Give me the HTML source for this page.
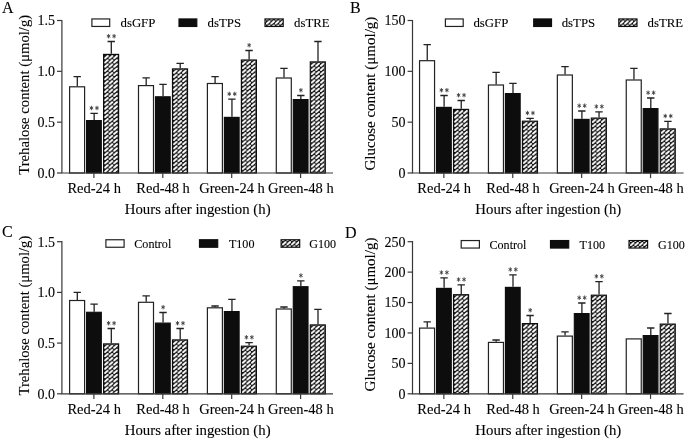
<!DOCTYPE html>
<html><head><meta charset="utf-8"><title>Figure</title>
<style>
html,body{margin:0;padding:0;background:#fff;}
svg{display:block;font-family:"Liberation Serif",serif;}
svg text{stroke:#000;stroke-width:0.1px;}
svg text.st{stroke:none;}
</style></head>
<body>
<svg width="685" height="440" viewBox="0 0 685 440">
<defs>
<pattern id="hatch" width="4.6" height="4.2" patternUnits="userSpaceOnUse" x="1.05" y="1.25">
<rect width="4.6" height="4.2" fill="#111"/>
<path d="M0.95 3.3 L3.65 0.9" stroke="#fff" stroke-width="1.9" stroke-linecap="round"/>
</pattern>
<pattern id="hatchL" width="4.45" height="4.2" patternUnits="userSpaceOnUse" x="1.55" y="2.0">
<rect width="4.45" height="4.2" fill="#0b0b0b"/>
<path d="M0.9 3.3 L3.55 0.9" stroke="#fff" stroke-width="1.95" stroke-linecap="round"/>
</pattern>
<filter id="soft" x="0" y="0" width="685" height="440" filterUnits="userSpaceOnUse"><feGaussianBlur stdDeviation="0.38"/></filter>
</defs>
<g filter="url(#soft)"><rect x="-5" y="-5" width="695" height="450" fill="#ffffff"/>
<path d="M77.3 86.2 V76.6 M73.55 76.6 H80.95" stroke="#222222" stroke-width="1.3" fill="none"/>
<g transform="translate(69 86.2)"><rect x="0.6" y="0.6" width="15" height="86.2" fill="#ffffff" stroke="#222222" stroke-width="1.2"/></g>
<path d="M94.15 120 V113.3 M90.4 113.3 H97.8" stroke="#222222" stroke-width="1.3" fill="none"/>
<g transform="translate(86 120)"><rect x="0.6" y="0.6" width="14.7" height="52.4" fill="#0b0b0b" stroke="#111" stroke-width="1.2"/></g>
<path d="M91.45 105.8 v4.4 M89.7 106.95 l3.5 2.1 M93.2 106.95 l-3.5 2.1" stroke="#3c3c3c" stroke-width="0.9" fill="none"/>
<path d="M96.95 105.8 v4.4 M95.2 106.95 l3.5 2.1 M98.7 106.95 l-3.5 2.1" stroke="#3c3c3c" stroke-width="0.9" fill="none"/>
<path d="M111.3 53.8 V41.5 M107.55 41.5 H114.95" stroke="#222222" stroke-width="1.3" fill="none"/>
<g transform="translate(103 53.8)"><rect x="0.6" y="0.6" width="15" height="118.6" fill="url(#hatch)" stroke="#111" stroke-width="1.2"/></g>
<path d="M108.6 34 v4.4 M106.85 35.15 l3.5 2.1 M110.35 35.15 l-3.5 2.1" stroke="#3c3c3c" stroke-width="0.9" fill="none"/>
<path d="M114.1 34 v4.4 M112.35 35.15 l3.5 2.1 M115.85 35.15 l-3.5 2.1" stroke="#3c3c3c" stroke-width="0.9" fill="none"/>
<path d="M146.2 85 V77.9 M142.45 77.9 H149.85" stroke="#222222" stroke-width="1.3" fill="none"/>
<g transform="translate(137.9 85)"><rect x="0.6" y="0.6" width="15" height="87.4" fill="#ffffff" stroke="#222222" stroke-width="1.2"/></g>
<path d="M163.05 96.2 V84.4 M159.3 84.4 H166.7" stroke="#222222" stroke-width="1.3" fill="none"/>
<g transform="translate(154.9 96.2)"><rect x="0.6" y="0.6" width="14.7" height="76.2" fill="#0b0b0b" stroke="#111" stroke-width="1.2"/></g>
<path d="M180.2 68.3 V63.3 M176.45 63.3 H183.85" stroke="#222222" stroke-width="1.3" fill="none"/>
<g transform="translate(171.9 68.3)"><rect x="0.6" y="0.6" width="15" height="104.1" fill="url(#hatch)" stroke="#111" stroke-width="1.2"/></g>
<path d="M215.1 82.9 V76.6 M211.35 76.6 H218.75" stroke="#222222" stroke-width="1.3" fill="none"/>
<g transform="translate(206.8 82.9)"><rect x="0.6" y="0.6" width="15" height="89.5" fill="#ffffff" stroke="#222222" stroke-width="1.2"/></g>
<path d="M231.95 116.8 V99.2 M228.2 99.2 H235.6" stroke="#222222" stroke-width="1.3" fill="none"/>
<g transform="translate(223.8 116.8)"><rect x="0.6" y="0.6" width="14.7" height="55.6" fill="#0b0b0b" stroke="#111" stroke-width="1.2"/></g>
<path d="M229.25 91.7 v4.4 M227.5 92.85 l3.5 2.1 M231 92.85 l-3.5 2.1" stroke="#3c3c3c" stroke-width="0.9" fill="none"/>
<path d="M234.75 91.7 v4.4 M233 92.85 l3.5 2.1 M236.5 92.85 l-3.5 2.1" stroke="#3c3c3c" stroke-width="0.9" fill="none"/>
<path d="M249.1 59.4 V50.5 M245.35 50.5 H252.75" stroke="#222222" stroke-width="1.3" fill="none"/>
<g transform="translate(240.8 59.4)"><rect x="0.6" y="0.6" width="15" height="113" fill="url(#hatch)" stroke="#111" stroke-width="1.2"/></g>
<path d="M249.15 43 v4.4 M247.4 44.15 l3.5 2.1 M250.9 44.15 l-3.5 2.1" stroke="#3c3c3c" stroke-width="0.9" fill="none"/>
<path d="M284 77.4 V68.3 M280.25 68.3 H287.65" stroke="#222222" stroke-width="1.3" fill="none"/>
<g transform="translate(275.7 77.4)"><rect x="0.6" y="0.6" width="15" height="95" fill="#ffffff" stroke="#222222" stroke-width="1.2"/></g>
<path d="M300.85 99 V95.5 M297.1 95.5 H304.5" stroke="#222222" stroke-width="1.3" fill="none"/>
<g transform="translate(292.7 99)"><rect x="0.6" y="0.6" width="14.7" height="73.4" fill="#0b0b0b" stroke="#111" stroke-width="1.2"/></g>
<path d="M300.9 88 v4.4 M299.15 89.15 l3.5 2.1 M302.65 89.15 l-3.5 2.1" stroke="#3c3c3c" stroke-width="0.9" fill="none"/>
<path d="M318 61.3 V41.5 M314.25 41.5 H321.65" stroke="#222222" stroke-width="1.3" fill="none"/>
<g transform="translate(309.7 61.3)"><rect x="0.6" y="0.6" width="15" height="111.1" fill="url(#hatch)" stroke="#111" stroke-width="1.2"/></g>
<path d="M61.9 19.9 V173 H333" stroke="#383838" stroke-width="1.2" fill="none"/>
<path d="M57 173 H61.9" stroke="#383838" stroke-width="1.2"/>
<text x="54.9" y="177.9" text-anchor="end" font-size="14" fill="#000000">0.0</text>
<path d="M57 122.17 H61.9" stroke="#383838" stroke-width="1.2"/>
<text x="54.9" y="127.07" text-anchor="end" font-size="14" fill="#000000">0.5</text>
<path d="M57 71.33 H61.9" stroke="#383838" stroke-width="1.2"/>
<text x="54.9" y="76.23" text-anchor="end" font-size="14" fill="#000000">1.0</text>
<path d="M57 20.5 H61.9" stroke="#383838" stroke-width="1.2"/>
<text x="54.9" y="25.4" text-anchor="end" font-size="14" fill="#000000">1.5</text>
<path d="M93.9 173 V178.1" stroke="#383838" stroke-width="1.2"/>
<text x="94.2" y="193.1" text-anchor="middle" font-size="14.5" fill="#000000">Red-24 h</text>
<path d="M162.8 173 V178.1" stroke="#383838" stroke-width="1.2"/>
<text x="163.1" y="193.1" text-anchor="middle" font-size="14.5" fill="#000000">Red-48 h</text>
<path d="M231.7 173 V178.1" stroke="#383838" stroke-width="1.2"/>
<text x="232" y="193.1" text-anchor="middle" font-size="14.5" fill="#000000">Green-24 h</text>
<path d="M300.6 173 V178.1" stroke="#383838" stroke-width="1.2"/>
<text x="300.9" y="193.1" text-anchor="middle" font-size="14.5" fill="#000000">Green-48 h</text>
<text x="197.7" y="214.2" text-anchor="middle" font-size="14.8" fill="#000000">Hours after ingestion (h)</text>
<text transform="translate(29 94.8) rotate(-90)" text-anchor="middle" font-size="14.7" fill="#000000">Trehalose content (μmol/g)</text>
<text x="2" y="12.9" font-size="16" fill="#000000">A</text>
<g transform="translate(91.3 18.35)"><rect x="0.6" y="0.6" width="17.8" height="7.5" fill="#ffffff" stroke="#222222" stroke-width="1.2"/></g>
<text x="120.5" y="26.9" font-size="12.8" fill="#000000">dsGFP</text>
<g transform="translate(178.4 18.35)"><rect x="0.6" y="0.6" width="17.8" height="7.5" fill="#0b0b0b" stroke="#111" stroke-width="1.2"/></g>
<text x="207.6" y="26.9" font-size="12.8" fill="#000000">dsTPS</text>
<g transform="translate(264.4 18.35)"><rect x="0.6" y="0.6" width="18.2" height="7.5" fill="url(#hatchL)" stroke="#111" stroke-width="1.2"/></g>
<text x="294.1" y="26.9" font-size="12.8" fill="#000000">dsTRE</text>
<path d="M427.25 60.1 V44.7 M423.5 44.7 H430.9" stroke="#222222" stroke-width="1.3" fill="none"/>
<g transform="translate(418.95 60.1)"><rect x="0.6" y="0.6" width="15" height="112.3" fill="#ffffff" stroke="#222222" stroke-width="1.2"/></g>
<path d="M444.1 106.8 V95.5 M440.35 95.5 H447.75" stroke="#222222" stroke-width="1.3" fill="none"/>
<g transform="translate(435.95 106.8)"><rect x="0.6" y="0.6" width="14.7" height="65.6" fill="#0b0b0b" stroke="#111" stroke-width="1.2"/></g>
<path d="M441.4 88 v4.4 M439.65 89.15 l3.5 2.1 M443.15 89.15 l-3.5 2.1" stroke="#3c3c3c" stroke-width="0.9" fill="none"/>
<path d="M446.9 88 v4.4 M445.15 89.15 l3.5 2.1 M448.65 89.15 l-3.5 2.1" stroke="#3c3c3c" stroke-width="0.9" fill="none"/>
<path d="M461.25 108.8 V100.5 M457.5 100.5 H464.9" stroke="#222222" stroke-width="1.3" fill="none"/>
<g transform="translate(452.95 108.8)"><rect x="0.6" y="0.6" width="15" height="63.6" fill="url(#hatch)" stroke="#111" stroke-width="1.2"/></g>
<path d="M458.55 93 v4.4 M456.8 94.15 l3.5 2.1 M460.3 94.15 l-3.5 2.1" stroke="#3c3c3c" stroke-width="0.9" fill="none"/>
<path d="M464.05 93 v4.4 M462.3 94.15 l3.5 2.1 M465.8 94.15 l-3.5 2.1" stroke="#3c3c3c" stroke-width="0.9" fill="none"/>
<path d="M496.15 84.4 V72.4 M492.4 72.4 H499.8" stroke="#222222" stroke-width="1.3" fill="none"/>
<g transform="translate(487.85 84.4)"><rect x="0.6" y="0.6" width="15" height="88" fill="#ffffff" stroke="#222222" stroke-width="1.2"/></g>
<path d="M513 93 V83.4 M509.25 83.4 H516.65" stroke="#222222" stroke-width="1.3" fill="none"/>
<g transform="translate(504.85 93)"><rect x="0.6" y="0.6" width="14.7" height="79.4" fill="#0b0b0b" stroke="#111" stroke-width="1.2"/></g>
<path d="M530.15 120.6 V118.3 M526.4 118.3 H533.8" stroke="#222222" stroke-width="1.3" fill="none"/>
<g transform="translate(521.85 120.6)"><rect x="0.6" y="0.6" width="15" height="51.8" fill="url(#hatch)" stroke="#111" stroke-width="1.2"/></g>
<path d="M527.45 110.8 v4.4 M525.7 111.95 l3.5 2.1 M529.2 111.95 l-3.5 2.1" stroke="#3c3c3c" stroke-width="0.9" fill="none"/>
<path d="M532.95 110.8 v4.4 M531.2 111.95 l3.5 2.1 M534.7 111.95 l-3.5 2.1" stroke="#3c3c3c" stroke-width="0.9" fill="none"/>
<path d="M565.05 74.4 V66.6 M561.3 66.6 H568.7" stroke="#222222" stroke-width="1.3" fill="none"/>
<g transform="translate(556.75 74.4)"><rect x="0.6" y="0.6" width="15" height="98" fill="#ffffff" stroke="#222222" stroke-width="1.2"/></g>
<path d="M581.9 118.8 V111 M578.15 111 H585.55" stroke="#222222" stroke-width="1.3" fill="none"/>
<g transform="translate(573.75 118.8)"><rect x="0.6" y="0.6" width="14.7" height="53.6" fill="#0b0b0b" stroke="#111" stroke-width="1.2"/></g>
<path d="M579.2 103.5 v4.4 M577.45 104.65 l3.5 2.1 M580.95 104.65 l-3.5 2.1" stroke="#3c3c3c" stroke-width="0.9" fill="none"/>
<path d="M584.7 103.5 v4.4 M582.95 104.65 l3.5 2.1 M586.45 104.65 l-3.5 2.1" stroke="#3c3c3c" stroke-width="0.9" fill="none"/>
<path d="M599.05 117.5 V111.8 M595.3 111.8 H602.7" stroke="#222222" stroke-width="1.3" fill="none"/>
<g transform="translate(590.75 117.5)"><rect x="0.6" y="0.6" width="15" height="54.9" fill="url(#hatch)" stroke="#111" stroke-width="1.2"/></g>
<path d="M596.35 104.3 v4.4 M594.6 105.45 l3.5 2.1 M598.1 105.45 l-3.5 2.1" stroke="#3c3c3c" stroke-width="0.9" fill="none"/>
<path d="M601.85 104.3 v4.4 M600.1 105.45 l3.5 2.1 M603.6 105.45 l-3.5 2.1" stroke="#3c3c3c" stroke-width="0.9" fill="none"/>
<path d="M633.95 79.4 V68.3 M630.2 68.3 H637.6" stroke="#222222" stroke-width="1.3" fill="none"/>
<g transform="translate(625.65 79.4)"><rect x="0.6" y="0.6" width="15" height="93" fill="#ffffff" stroke="#222222" stroke-width="1.2"/></g>
<path d="M650.8 108 V98 M647.05 98 H654.45" stroke="#222222" stroke-width="1.3" fill="none"/>
<g transform="translate(642.65 108)"><rect x="0.6" y="0.6" width="14.7" height="64.4" fill="#0b0b0b" stroke="#111" stroke-width="1.2"/></g>
<path d="M648.1 90.5 v4.4 M646.35 91.65 l3.5 2.1 M649.85 91.65 l-3.5 2.1" stroke="#3c3c3c" stroke-width="0.9" fill="none"/>
<path d="M653.6 90.5 v4.4 M651.85 91.65 l3.5 2.1 M655.35 91.65 l-3.5 2.1" stroke="#3c3c3c" stroke-width="0.9" fill="none"/>
<path d="M667.95 128.3 V121.3 M664.2 121.3 H671.6" stroke="#222222" stroke-width="1.3" fill="none"/>
<g transform="translate(659.65 128.3)"><rect x="0.6" y="0.6" width="15" height="44.1" fill="url(#hatch)" stroke="#111" stroke-width="1.2"/></g>
<path d="M665.25 113.8 v4.4 M663.5 114.95 l3.5 2.1 M667 114.95 l-3.5 2.1" stroke="#3c3c3c" stroke-width="0.9" fill="none"/>
<path d="M670.75 113.8 v4.4 M669 114.95 l3.5 2.1 M672.5 114.95 l-3.5 2.1" stroke="#3c3c3c" stroke-width="0.9" fill="none"/>
<path d="M412.5 19.9 V173 H683.6" stroke="#383838" stroke-width="1.2" fill="none"/>
<path d="M407.6 173 H412.5" stroke="#383838" stroke-width="1.2"/>
<text x="405.5" y="177.9" text-anchor="end" font-size="14" fill="#000000">0</text>
<path d="M407.6 122.17 H412.5" stroke="#383838" stroke-width="1.2"/>
<text x="405.5" y="127.07" text-anchor="end" font-size="14" fill="#000000">50</text>
<path d="M407.6 71.33 H412.5" stroke="#383838" stroke-width="1.2"/>
<text x="405.5" y="76.23" text-anchor="end" font-size="14" fill="#000000">100</text>
<path d="M407.6 20.5 H412.5" stroke="#383838" stroke-width="1.2"/>
<text x="405.5" y="25.4" text-anchor="end" font-size="14" fill="#000000">150</text>
<path d="M443.85 173 V178.1" stroke="#383838" stroke-width="1.2"/>
<text x="444.15" y="193.1" text-anchor="middle" font-size="14.5" fill="#000000">Red-24 h</text>
<path d="M512.75 173 V178.1" stroke="#383838" stroke-width="1.2"/>
<text x="513.05" y="193.1" text-anchor="middle" font-size="14.5" fill="#000000">Red-48 h</text>
<path d="M581.65 173 V178.1" stroke="#383838" stroke-width="1.2"/>
<text x="581.95" y="193.1" text-anchor="middle" font-size="14.5" fill="#000000">Green-24 h</text>
<path d="M650.55 173 V178.1" stroke="#383838" stroke-width="1.2"/>
<text x="650.85" y="193.1" text-anchor="middle" font-size="14.5" fill="#000000">Green-48 h</text>
<text x="548.3" y="214.2" text-anchor="middle" font-size="14.8" fill="#000000">Hours after ingestion (h)</text>
<text transform="translate(374.7 93.6) rotate(-90)" text-anchor="middle" font-size="15" fill="#000000">Glucose content (μmol/g)</text>
<text x="350" y="12.9" font-size="16" fill="#000000">B</text>
<g transform="translate(444.8 18.35)"><rect x="0.6" y="0.6" width="17.8" height="7.5" fill="#ffffff" stroke="#222222" stroke-width="1.2"/></g>
<text x="473.4" y="26.9" font-size="12.8" fill="#000000">dsGFP</text>
<g transform="translate(533.1 18.35)"><rect x="0.6" y="0.6" width="17.8" height="7.5" fill="#0b0b0b" stroke="#111" stroke-width="1.2"/></g>
<text x="561.7" y="26.9" font-size="12.8" fill="#000000">dsTPS</text>
<g transform="translate(618.2 18.35)"><rect x="0.6" y="0.6" width="18.2" height="7.5" fill="url(#hatchL)" stroke="#111" stroke-width="1.2"/></g>
<text x="647.6" y="26.9" font-size="12.8" fill="#000000">dsTRE</text>
<path d="M77.3 299.9 V292.4 M73.55 292.4 H80.95" stroke="#222222" stroke-width="1.3" fill="none"/>
<g transform="translate(69 299.9)"><rect x="0.6" y="0.6" width="15" height="93.3" fill="#ffffff" stroke="#222222" stroke-width="1.2"/></g>
<path d="M94.15 311.7 V304.2 M90.4 304.2 H97.8" stroke="#222222" stroke-width="1.3" fill="none"/>
<g transform="translate(86 311.7)"><rect x="0.6" y="0.6" width="14.7" height="81.5" fill="#0b0b0b" stroke="#111" stroke-width="1.2"/></g>
<path d="M111.3 343.3 V328.5 M107.55 328.5 H114.95" stroke="#222222" stroke-width="1.3" fill="none"/>
<g transform="translate(103 343.3)"><rect x="0.6" y="0.6" width="15" height="49.9" fill="url(#hatch)" stroke="#111" stroke-width="1.2"/></g>
<path d="M108.6 321 v4.4 M106.85 322.15 l3.5 2.1 M110.35 322.15 l-3.5 2.1" stroke="#3c3c3c" stroke-width="0.9" fill="none"/>
<path d="M114.1 321 v4.4 M112.35 322.15 l3.5 2.1 M115.85 322.15 l-3.5 2.1" stroke="#3c3c3c" stroke-width="0.9" fill="none"/>
<path d="M146.2 301.7 V295.9 M142.45 295.9 H149.85" stroke="#222222" stroke-width="1.3" fill="none"/>
<g transform="translate(137.9 301.7)"><rect x="0.6" y="0.6" width="15" height="91.5" fill="#ffffff" stroke="#222222" stroke-width="1.2"/></g>
<path d="M163.05 322.5 V312.5 M159.3 312.5 H166.7" stroke="#222222" stroke-width="1.3" fill="none"/>
<g transform="translate(154.9 322.5)"><rect x="0.6" y="0.6" width="14.7" height="70.7" fill="#0b0b0b" stroke="#111" stroke-width="1.2"/></g>
<path d="M163.1 305 v4.4 M161.35 306.15 l3.5 2.1 M164.85 306.15 l-3.5 2.1" stroke="#3c3c3c" stroke-width="0.9" fill="none"/>
<path d="M180.2 339.3 V328.5 M176.45 328.5 H183.85" stroke="#222222" stroke-width="1.3" fill="none"/>
<g transform="translate(171.9 339.3)"><rect x="0.6" y="0.6" width="15" height="53.9" fill="url(#hatch)" stroke="#111" stroke-width="1.2"/></g>
<path d="M177.5 321 v4.4 M175.75 322.15 l3.5 2.1 M179.25 322.15 l-3.5 2.1" stroke="#3c3c3c" stroke-width="0.9" fill="none"/>
<path d="M183 321 v4.4 M181.25 322.15 l3.5 2.1 M184.75 322.15 l-3.5 2.1" stroke="#3c3c3c" stroke-width="0.9" fill="none"/>
<path d="M215.1 307.2 V306 M211.35 306 H218.75" stroke="#222222" stroke-width="1.3" fill="none"/>
<g transform="translate(206.8 307.2)"><rect x="0.6" y="0.6" width="15" height="86" fill="#ffffff" stroke="#222222" stroke-width="1.2"/></g>
<path d="M231.95 311 V299.4 M228.2 299.4 H235.6" stroke="#222222" stroke-width="1.3" fill="none"/>
<g transform="translate(223.8 311)"><rect x="0.6" y="0.6" width="14.7" height="82.2" fill="#0b0b0b" stroke="#111" stroke-width="1.2"/></g>
<path d="M249.1 345.6 V342.6 M245.35 342.6 H252.75" stroke="#222222" stroke-width="1.3" fill="none"/>
<g transform="translate(240.8 345.6)"><rect x="0.6" y="0.6" width="15" height="47.6" fill="url(#hatch)" stroke="#111" stroke-width="1.2"/></g>
<path d="M246.4 335.1 v4.4 M244.65 336.25 l3.5 2.1 M248.15 336.25 l-3.5 2.1" stroke="#3c3c3c" stroke-width="0.9" fill="none"/>
<path d="M251.9 335.1 v4.4 M250.15 336.25 l3.5 2.1 M253.65 336.25 l-3.5 2.1" stroke="#3c3c3c" stroke-width="0.9" fill="none"/>
<path d="M284 308.4 V307 M280.25 307 H287.65" stroke="#222222" stroke-width="1.3" fill="none"/>
<g transform="translate(275.7 308.4)"><rect x="0.6" y="0.6" width="15" height="84.8" fill="#ffffff" stroke="#222222" stroke-width="1.2"/></g>
<path d="M300.85 286.1 V280.8 M297.1 280.8 H304.5" stroke="#222222" stroke-width="1.3" fill="none"/>
<g transform="translate(292.7 286.1)"><rect x="0.6" y="0.6" width="14.7" height="107.1" fill="#0b0b0b" stroke="#111" stroke-width="1.2"/></g>
<path d="M300.9 273.3 v4.4 M299.15 274.45 l3.5 2.1 M302.65 274.45 l-3.5 2.1" stroke="#3c3c3c" stroke-width="0.9" fill="none"/>
<path d="M318 324.3 V309.4 M314.25 309.4 H321.65" stroke="#222222" stroke-width="1.3" fill="none"/>
<g transform="translate(309.7 324.3)"><rect x="0.6" y="0.6" width="15" height="68.9" fill="url(#hatch)" stroke="#111" stroke-width="1.2"/></g>
<path d="M61.9 241.1 V393.8 H333" stroke="#383838" stroke-width="1.2" fill="none"/>
<path d="M57 393.8 H61.9" stroke="#383838" stroke-width="1.2"/>
<text x="54.9" y="398.7" text-anchor="end" font-size="14" fill="#000000">0.0</text>
<path d="M57 343.1 H61.9" stroke="#383838" stroke-width="1.2"/>
<text x="54.9" y="348" text-anchor="end" font-size="14" fill="#000000">0.5</text>
<path d="M57 292.4 H61.9" stroke="#383838" stroke-width="1.2"/>
<text x="54.9" y="297.3" text-anchor="end" font-size="14" fill="#000000">1.0</text>
<path d="M57 241.7 H61.9" stroke="#383838" stroke-width="1.2"/>
<text x="54.9" y="246.6" text-anchor="end" font-size="14" fill="#000000">1.5</text>
<path d="M93.9 393.8 V398.9" stroke="#383838" stroke-width="1.2"/>
<text x="94.2" y="413.9" text-anchor="middle" font-size="14.5" fill="#000000">Red-24 h</text>
<path d="M162.8 393.8 V398.9" stroke="#383838" stroke-width="1.2"/>
<text x="163.1" y="413.9" text-anchor="middle" font-size="14.5" fill="#000000">Red-48 h</text>
<path d="M231.7 393.8 V398.9" stroke="#383838" stroke-width="1.2"/>
<text x="232" y="413.9" text-anchor="middle" font-size="14.5" fill="#000000">Green-24 h</text>
<path d="M300.6 393.8 V398.9" stroke="#383838" stroke-width="1.2"/>
<text x="300.9" y="413.9" text-anchor="middle" font-size="14.5" fill="#000000">Green-48 h</text>
<text x="197.7" y="435" text-anchor="middle" font-size="14.8" fill="#000000">Hours after ingestion (h)</text>
<text transform="translate(29 315.6) rotate(-90)" text-anchor="middle" font-size="14.7" fill="#000000">Trehalose content (μmol/g)</text>
<text x="2" y="237.2" font-size="16" fill="#000000">C</text>
<g transform="translate(105.3 239.15)"><rect x="0.6" y="0.6" width="18.2" height="7.5" fill="#ffffff" stroke="#222222" stroke-width="1.2"/></g>
<text transform="translate(134.3 247.8) scale(0.91 1)" font-size="13.3" fill="#000000">Control</text>
<g transform="translate(198.9 239.15)"><rect x="0.6" y="0.6" width="18.2" height="7.5" fill="#0b0b0b" stroke="#111" stroke-width="1.2"/></g>
<text transform="translate(228.9 247.8) scale(0.91 1)" font-size="13.3" fill="#000000">T100</text>
<g transform="translate(280.5 239.15)"><rect x="0.6" y="0.6" width="18.6" height="7.5" fill="url(#hatchL)" stroke="#111" stroke-width="1.2"/></g>
<text transform="translate(309.3 247.8) scale(0.91 1)" font-size="13.3" fill="#000000">G100</text>
<path d="M427.25 327.5 V321.8 M423.5 321.8 H430.9" stroke="#222222" stroke-width="1.3" fill="none"/>
<g transform="translate(418.95 327.5)"><rect x="0.6" y="0.6" width="15" height="65.7" fill="#ffffff" stroke="#222222" stroke-width="1.2"/></g>
<path d="M444.1 287.8 V277.8 M440.35 277.8 H447.75" stroke="#222222" stroke-width="1.3" fill="none"/>
<g transform="translate(435.95 287.8)"><rect x="0.6" y="0.6" width="14.7" height="105.4" fill="#0b0b0b" stroke="#111" stroke-width="1.2"/></g>
<path d="M441.4 270.3 v4.4 M439.65 271.45 l3.5 2.1 M443.15 271.45 l-3.5 2.1" stroke="#3c3c3c" stroke-width="0.9" fill="none"/>
<path d="M446.9 270.3 v4.4 M445.15 271.45 l3.5 2.1 M448.65 271.45 l-3.5 2.1" stroke="#3c3c3c" stroke-width="0.9" fill="none"/>
<path d="M461.25 294.1 V284.8 M457.5 284.8 H464.9" stroke="#222222" stroke-width="1.3" fill="none"/>
<g transform="translate(452.95 294.1)"><rect x="0.6" y="0.6" width="15" height="99.1" fill="url(#hatch)" stroke="#111" stroke-width="1.2"/></g>
<path d="M458.55 277.3 v4.4 M456.8 278.45 l3.5 2.1 M460.3 278.45 l-3.5 2.1" stroke="#3c3c3c" stroke-width="0.9" fill="none"/>
<path d="M464.05 277.3 v4.4 M462.3 278.45 l3.5 2.1 M465.8 278.45 l-3.5 2.1" stroke="#3c3c3c" stroke-width="0.9" fill="none"/>
<path d="M496.15 341.8 V340 M492.4 340 H499.8" stroke="#222222" stroke-width="1.3" fill="none"/>
<g transform="translate(487.85 341.8)"><rect x="0.6" y="0.6" width="15" height="51.4" fill="#ffffff" stroke="#222222" stroke-width="1.2"/></g>
<path d="M513 286.8 V274.8 M509.25 274.8 H516.65" stroke="#222222" stroke-width="1.3" fill="none"/>
<g transform="translate(504.85 286.8)"><rect x="0.6" y="0.6" width="14.7" height="106.4" fill="#0b0b0b" stroke="#111" stroke-width="1.2"/></g>
<path d="M510.3 267.3 v4.4 M508.55 268.45 l3.5 2.1 M512.05 268.45 l-3.5 2.1" stroke="#3c3c3c" stroke-width="0.9" fill="none"/>
<path d="M515.8 267.3 v4.4 M514.05 268.45 l3.5 2.1 M517.55 268.45 l-3.5 2.1" stroke="#3c3c3c" stroke-width="0.9" fill="none"/>
<path d="M530.15 323 V315.5 M526.4 315.5 H533.8" stroke="#222222" stroke-width="1.3" fill="none"/>
<g transform="translate(521.85 323)"><rect x="0.6" y="0.6" width="15" height="70.2" fill="url(#hatch)" stroke="#111" stroke-width="1.2"/></g>
<path d="M530.2 308 v4.4 M528.45 309.15 l3.5 2.1 M531.95 309.15 l-3.5 2.1" stroke="#3c3c3c" stroke-width="0.9" fill="none"/>
<path d="M565.05 335.5 V331.8 M561.3 331.8 H568.7" stroke="#222222" stroke-width="1.3" fill="none"/>
<g transform="translate(556.75 335.5)"><rect x="0.6" y="0.6" width="15" height="57.7" fill="#ffffff" stroke="#222222" stroke-width="1.2"/></g>
<path d="M581.9 313 V303 M578.15 303 H585.55" stroke="#222222" stroke-width="1.3" fill="none"/>
<g transform="translate(573.75 313)"><rect x="0.6" y="0.6" width="14.7" height="80.2" fill="#0b0b0b" stroke="#111" stroke-width="1.2"/></g>
<path d="M579.2 295.5 v4.4 M577.45 296.65 l3.5 2.1 M580.95 296.65 l-3.5 2.1" stroke="#3c3c3c" stroke-width="0.9" fill="none"/>
<path d="M584.7 295.5 v4.4 M582.95 296.65 l3.5 2.1 M586.45 296.65 l-3.5 2.1" stroke="#3c3c3c" stroke-width="0.9" fill="none"/>
<path d="M599.05 294.6 V281.6 M595.3 281.6 H602.7" stroke="#222222" stroke-width="1.3" fill="none"/>
<g transform="translate(590.75 294.6)"><rect x="0.6" y="0.6" width="15" height="98.6" fill="url(#hatch)" stroke="#111" stroke-width="1.2"/></g>
<path d="M596.35 274.1 v4.4 M594.6 275.25 l3.5 2.1 M598.1 275.25 l-3.5 2.1" stroke="#3c3c3c" stroke-width="0.9" fill="none"/>
<path d="M601.85 274.1 v4.4 M600.1 275.25 l3.5 2.1 M603.6 275.25 l-3.5 2.1" stroke="#3c3c3c" stroke-width="0.9" fill="none"/>
<g transform="translate(625.65 338.3)"><rect x="0.6" y="0.6" width="15" height="54.9" fill="#ffffff" stroke="#222222" stroke-width="1.2"/></g>
<path d="M650.8 335 V328 M647.05 328 H654.45" stroke="#222222" stroke-width="1.3" fill="none"/>
<g transform="translate(642.65 335)"><rect x="0.6" y="0.6" width="14.7" height="58.2" fill="#0b0b0b" stroke="#111" stroke-width="1.2"/></g>
<path d="M667.95 323.5 V313.5 M664.2 313.5 H671.6" stroke="#222222" stroke-width="1.3" fill="none"/>
<g transform="translate(659.65 323.5)"><rect x="0.6" y="0.6" width="15" height="69.7" fill="url(#hatch)" stroke="#111" stroke-width="1.2"/></g>
<path d="M412.5 241.1 V393.8 H683.6" stroke="#383838" stroke-width="1.2" fill="none"/>
<path d="M407.6 393.8 H412.5" stroke="#383838" stroke-width="1.2"/>
<text x="405.5" y="398.7" text-anchor="end" font-size="14" fill="#000000">0</text>
<path d="M407.6 363.38 H412.5" stroke="#383838" stroke-width="1.2"/>
<text x="405.5" y="368.28" text-anchor="end" font-size="14" fill="#000000">50</text>
<path d="M407.6 332.96 H412.5" stroke="#383838" stroke-width="1.2"/>
<text x="405.5" y="337.86" text-anchor="end" font-size="14" fill="#000000">100</text>
<path d="M407.6 302.54 H412.5" stroke="#383838" stroke-width="1.2"/>
<text x="405.5" y="307.44" text-anchor="end" font-size="14" fill="#000000">150</text>
<path d="M407.6 272.12 H412.5" stroke="#383838" stroke-width="1.2"/>
<text x="405.5" y="277.02" text-anchor="end" font-size="14" fill="#000000">200</text>
<path d="M407.6 241.7 H412.5" stroke="#383838" stroke-width="1.2"/>
<text x="405.5" y="246.6" text-anchor="end" font-size="14" fill="#000000">250</text>
<path d="M443.85 393.8 V398.9" stroke="#383838" stroke-width="1.2"/>
<text x="444.15" y="413.9" text-anchor="middle" font-size="14.5" fill="#000000">Red-24 h</text>
<path d="M512.75 393.8 V398.9" stroke="#383838" stroke-width="1.2"/>
<text x="513.05" y="413.9" text-anchor="middle" font-size="14.5" fill="#000000">Red-48 h</text>
<path d="M581.65 393.8 V398.9" stroke="#383838" stroke-width="1.2"/>
<text x="581.95" y="413.9" text-anchor="middle" font-size="14.5" fill="#000000">Green-24 h</text>
<path d="M650.55 393.8 V398.9" stroke="#383838" stroke-width="1.2"/>
<text x="650.85" y="413.9" text-anchor="middle" font-size="14.5" fill="#000000">Green-48 h</text>
<text x="548.3" y="435" text-anchor="middle" font-size="14.8" fill="#000000">Hours after ingestion (h)</text>
<text transform="translate(374.7 314.5) rotate(-90)" text-anchor="middle" font-size="15" fill="#000000">Glucose content (μmol/g)</text>
<text x="345" y="237.6" font-size="16" fill="#000000">D</text>
<g transform="translate(460.6 239.95)"><rect x="0.6" y="0.6" width="18.2" height="7.5" fill="#ffffff" stroke="#222222" stroke-width="1.2"/></g>
<text transform="translate(489.5 248.6) scale(0.91 1)" font-size="13.3" fill="#000000">Control</text>
<g transform="translate(549.9 239.95)"><rect x="0.6" y="0.6" width="18.2" height="7.5" fill="#0b0b0b" stroke="#111" stroke-width="1.2"/></g>
<text transform="translate(579.6 248.6) scale(0.91 1)" font-size="13.3" fill="#000000">T100</text>
<g transform="translate(628.4 239.95)"><rect x="0.6" y="0.6" width="18.6" height="7.5" fill="url(#hatchL)" stroke="#111" stroke-width="1.2"/></g>
<text transform="translate(657.9 248.6) scale(0.91 1)" font-size="13.3" fill="#000000">G100</text>
</g>
</svg>
</body></html>
